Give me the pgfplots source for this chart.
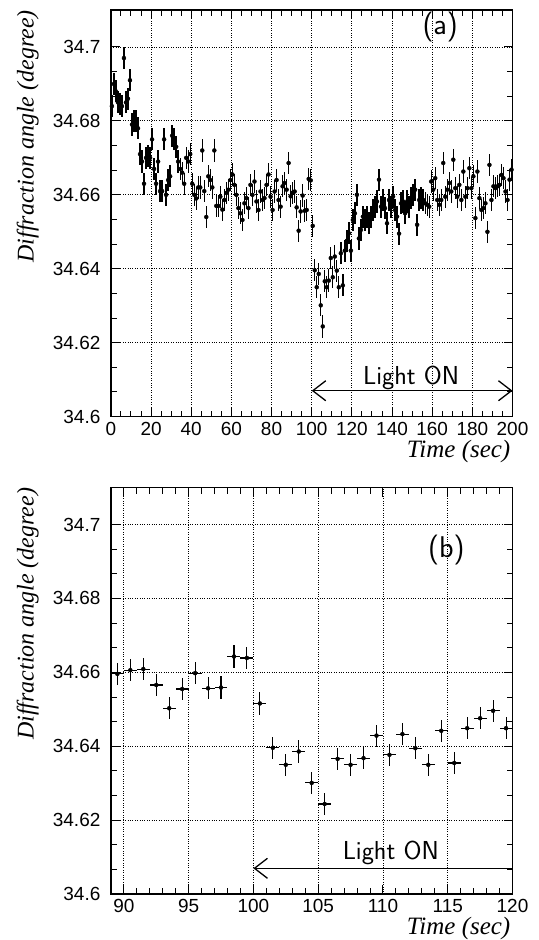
\documentclass[border=0pt]{standalone}
\usepackage{fontspec}
\setmainfont{Liberation Sans}
\newfontfamily\timesf{Liberation Serif}
\usepackage{pgfplots}
\usepackage{pgfplotstable}
\pgfplotsset{compat=1.18}
\usetikzlibrary{arrows.meta}

% diffraction angle per 1 s bin
\pgfplotstableread{
t v
0.5 34.684
1.5 34.690
2.5 34.688
3.5 34.685
4.5 34.6845
5.5 34.684
6.5 34.697
7.5 34.685
8.5 34.686
9.5 34.691
10.5 34.679
11.5 34.680
12.5 34.680
13.5 34.678
14.5 34.671
15.5 34.669
16.5 34.663
17.5 34.670
18.5 34.6705
19.5 34.670
20.5 34.675
21.5 34.667
22.5 34.663
23.5 34.669
24.5 34.661
25.5 34.661
26.5 34.675
27.5 34.660
28.5 34.664
29.5 34.665
30.5 34.676
31.5 34.675
32.5 34.673
33.5 34.669
34.5 34.667
35.5 34.666
36.5 34.663
37.5 34.670
38.5 34.669
39.5 34.671
40.5 34.663
41.5 34.660
42.5 34.659
43.5 34.662
44.5 34.662
45.5 34.672
46.5 34.661
47.5 34.654
48.5 34.665
49.5 34.664
50.5 34.662
51.5 34.672
52.5 34.657
53.5 34.657
54.5 34.6595
55.5 34.656
56.5 34.6586
57.5 34.6605
58.5 34.6614
59.5 34.664
60.5 34.6655
61.5 34.6627
62.5 34.660
63.5 34.6564
64.5 34.655
65.5 34.6532
66.5 34.6577
67.5 34.6591
68.5 34.6564
69.5 34.6627
70.5 34.660
71.5 34.6636
72.5 34.6582
73.5 34.6559
74.5 34.6609
75.5 34.6586
76.5 34.6591
77.5 34.6627
78.5 34.6655
79.5 34.6595
80.5 34.6559
81.5 34.6609
82.5 34.664
83.5 34.6586
84.5 34.6568
85.5 34.6623
86.5 34.6632
87.5 34.6614
88.5 34.6686
89.5 34.6596
90.5 34.6606
91.5 34.6609
92.5 34.6566
93.5 34.6503
94.5 34.6555
95.5 34.6598
96.5 34.6557
97.5 34.6559
98.5 34.6643
99.5 34.6639
100.5 34.6516
101.5 34.6396
102.5 34.6350
103.5 34.6386
104.5 34.6301
105.5 34.6244
106.5 34.6366
107.5 34.6350
108.5 34.6368
109.5 34.6429
110.5 34.6377
111.5 34.6433
112.5 34.6395
113.5 34.6350
114.5 34.6442
115.5 34.6355
116.5 34.6449
117.5 34.6476
118.5 34.6496
119.5 34.6449
120.5 34.6532
121.5 34.655
122.5 34.660
123.5 34.6482
124.5 34.6505
125.5 34.6541
126.5 34.6532
127.5 34.6541
128.5 34.6523
129.5 34.6541
130.5 34.6559
131.5 34.6568
132.5 34.6582
133.5 34.6641
134.5 34.6568
135.5 34.6586
136.5 34.6564
137.5 34.6523
138.5 34.6586
139.5 34.6568
140.5 34.6595
141.5 34.6559
142.5 34.6541
143.5 34.6495
144.5 34.6577
145.5 34.6582
146.5 34.655
147.5 34.6582
148.5 34.6568
149.5 34.6591
150.5 34.660
151.5 34.6614
152.5 34.6519
153.5 34.6586
154.5 34.6591
155.5 34.6586
156.5 34.6577
157.5 34.6573
158.5 34.6568
159.5 34.6636
160.5 34.6614
161.5 34.6645
162.5 34.6586
163.5 34.6573
164.5 34.6586
165.5 34.6686
166.5 34.6595
167.5 34.6614
168.5 34.6632
169.5 34.6609
170.5 34.6695
171.5 34.6618
172.5 34.6595
173.5 34.6627
174.5 34.6586
175.5 34.6663
176.5 34.6595
177.5 34.6618
178.5 34.6672
179.5 34.6618
180.5 34.665
181.5 34.6537
182.5 34.6663
183.5 34.6591
184.5 34.6559
185.5 34.6564
186.5 34.6577
187.5 34.650
188.5 34.6681
189.5 34.6586
190.5 34.6623
191.5 34.6618
192.5 34.6623
193.5 34.6627
194.5 34.6654
195.5 34.6645
196.5 34.6609
197.5 34.6586
198.5 34.6641
199.5 34.6668
}\angledata

\tikzset{barb/.tip={Straight Barb[length=13pt,width=20pt,line width=1.3pt]}}

\pgfplotsset{
  panel/.style={
    scale only axis, width=402pt, height=407pt, anchor=north west,
    ymin=34.6, ymax=34.71,
    ytick={34.6,34.62,34.64,34.66,34.68,34.7}, minor y tick num=2,
    grid=major, major grid style={black, dotted, line width=0.9pt},
    axis line style={line width=1.4pt}, tick style={black, line width=1pt},
    major tick length=9pt, minor tick length=6pt,
    tick label style={font=\fontsize{19}{21}\selectfont},
    yticklabel style={xshift=-7pt},
    xticklabel style={yshift=-2pt},
    /pgf/number format/assume math mode=true,
    ylabel={Diffraction angle (degree)},
    ylabel style={font=\fontsize{24}{26}\selectfont\timesf\itshape,
      at={([xshift=-72pt]rel axis cs:0,1)}, anchor=south east, inner sep=0pt},
    xlabel={Time (sec)},
    xlabel style={font=\fontsize{25}{27}\selectfont\timesf\itshape,
      at={([yshift=-23pt]rel axis cs:0.995,0)}, anchor=north east, inner sep=0pt},
  },
  databars/.style={black, only marks, mark=*, mark options={draw=none, fill=none},
    error bars/.cd, x dir=both, x fixed=0.5, y dir=both, y fixed=0.003,
    error mark=none, error bar style={line width=#1}},
}

\begin{document}
\begin{tikzpicture}
\begin{axis}[panel, name=pa, at={(0,0)},
  xmin=0, xmax=200, xtick={0,20,...,200}, minor x tick num=3]
\addplot[databars=1.35pt] table[x=t,y=v]{\angledata};
\draw[line width=1.3pt, barb-barb] (axis cs:100,34.607) -- (axis cs:200,34.607);
\node[font=\fontsize{26}{28}\selectfont\sffamily, anchor=base]
  at (axis cs:149.5,34.6088) {Light ON};
\node[font=\fontsize{30}{32}\selectfont\sffamily]
  at (axis cs:164,34.7053) {(a)};
\end{axis}

\begin{axis}[panel, name=pb, at={(0,-478pt)},
  xmin=89, xmax=120, xtick={90,95,...,120}, minor x tick num=4]
\addplot[restrict x to domain=89:120, databars=1.1pt] table[x=t,y=v]{\angledata};
\draw[line width=1.3pt, barb-] (axis cs:100,34.607) -- (axis cs:120,34.607);
\node[font=\fontsize{26}{28}\selectfont\sffamily, anchor=base]
  at (axis cs:110.6,34.6094) {Light ON};
\node[font=\fontsize{30}{32}\selectfont\sffamily]
  at (axis cs:114.9,34.693) {(b)};
\end{axis}

\path (pa.north west) ++(-111pt,10pt) rectangle ++(539pt,-940pt);
\end{tikzpicture}
\end{document}
